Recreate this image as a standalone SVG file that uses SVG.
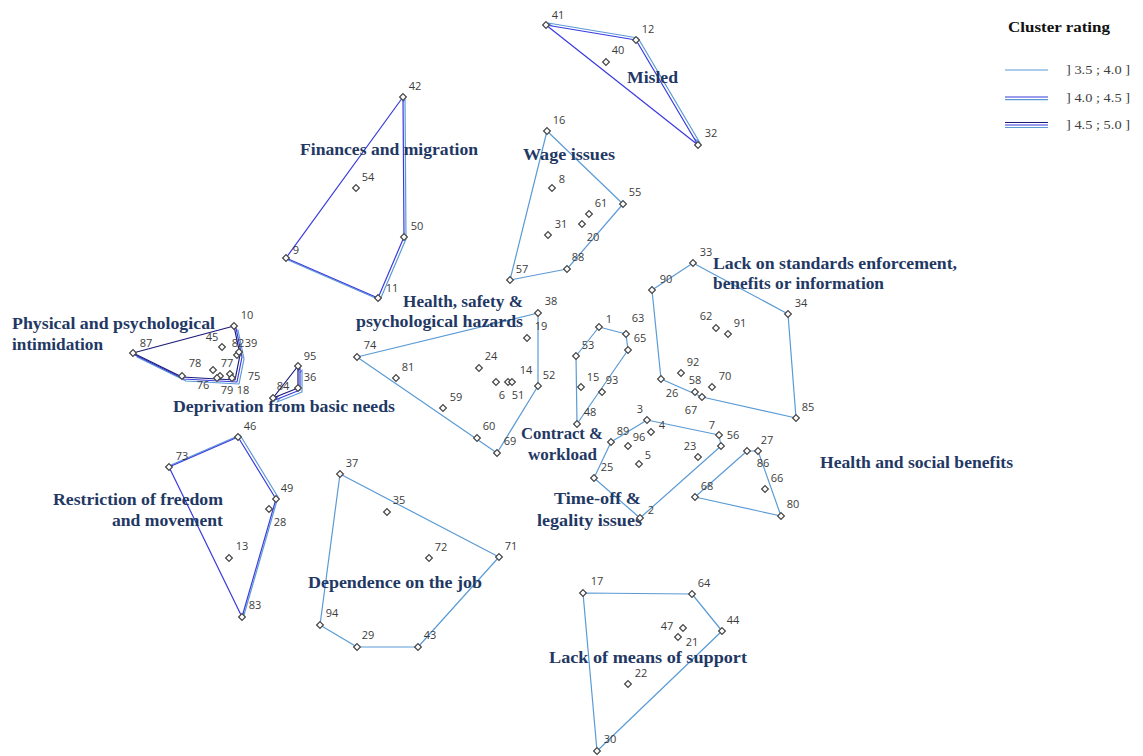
<svg xmlns="http://www.w3.org/2000/svg" xmlns:xlink="http://www.w3.org/1999/xlink" width="1143" height="756" viewBox="0 0 1143 756">
  <style>
    .l1 { fill: #ffffff; stroke: #5b9bd5; stroke-width: 1.2; stroke-linejoin: round; }
    .l2 { fill: #ffffff; stroke: #3a3ae0; stroke-width: 1.2; stroke-linejoin: round; }
    .l3 { fill: #ffffff; stroke: #1a1a78; stroke-width: 1.2; stroke-linejoin: round; }
    .pt { fill: #ffffff; stroke: #444444; stroke-width: 1.2; }
    .num { font-family: "Open Sans", "DejaVu Sans", sans-serif; font-size: 11px; fill: #3c3c3c; text-anchor: middle; }
    .cl { font-family: "Liberation Serif", serif; font-size: 17px; font-weight: bold; fill: #1f3864; }
    .lg { font-family: "Liberation Serif", serif; font-size: 13px; fill: #404040; }
    .lgt { font-family: "Liberation Serif", serif; font-size: 14px; font-weight: bold; fill: #111111; }
  </style>
  <defs>
    <path id="pt" class="pt" d="M0,-3.4 L3.4,0 L0,3.4 L-3.4,0 Z"/>
    <!-- cluster hulls -->
    <polygon id="h-fin" points="403,97 404,237 378,298 286,258"/>
    <polygon id="h-mis" points="546,25 636,40 698,145"/>
    <polygon id="h-wage" points="547,131 623,204 567,269 510,280"/>
    <polygon id="h-phys" points="133,353 234,326 240,355 235,380 182,377"/>
    <polygon id="h-dep" points="273,398 298,366 298,388"/>
    <polygon id="h-hsp" points="357,357 538,313 538,386 497,453"/>
    <polygon id="h-con" points="576,356 599,327 626,334 628,350 577,424"/>
    <polygon id="h-time" points="611,442 647,420 719,435 721,446 640,518 594,478"/>
    <polygon id="h-std" points="652,290 693,263 788,314 796,418 702,397 661,379"/>
    <polygon id="h-hsb" points="695,497 747,451 758,451 781,516"/>
    <polygon id="h-res" points="169,467 238,437 276,499 242,617"/>
    <polygon id="h-job" points="340,474 499,557 418,647 357,647 320,625"/>
    <polygon id="h-sup" points="583,593 692,594 722,631 597,751"/>
  </defs>

  <rect x="0" y="0" width="1143" height="756" fill="#ffffff"/>

  <!-- hull outlines; stacked layers show the cluster rating -->
  <g id="connectors">
    <use href="#h-fin" class="l1" transform="translate(2,2)"/>
    <use href="#h-fin" class="l2"/>
    <use href="#h-mis" class="l1" transform="translate(2,-2)"/>
    <use href="#h-mis" class="l2"/>
    <use href="#h-res" class="l1" transform="translate(2,-2)"/>
    <use href="#h-res" class="l2"/>
    <use href="#h-phys" class="l1" transform="translate(4,4)"/>
    <use href="#h-phys" class="l2" transform="translate(2,2)"/>
    <use href="#h-phys" class="l3"/>
    <use href="#h-dep" class="l1" transform="translate(4,4)"/>
    <use href="#h-dep" class="l2" transform="translate(2,2)"/>
    <use href="#h-dep" class="l3"/>
    <use href="#h-wage" class="l1"/>
    <use href="#h-hsp" class="l1"/>
    <use href="#h-con" class="l1"/>
    <use href="#h-time" class="l1"/>
    <use href="#h-std" class="l1"/>
    <use href="#h-hsb" class="l1"/>
    <use href="#h-job" class="l1"/>
    <use href="#h-sup" class="l1"/>
  </g>

  <!-- cluster names -->
  <g id="cluster-names">
    <text class="cl" x="300" y="155" textLength="178" lengthAdjust="spacingAndGlyphs">Finances and migration</text>
    <text class="cl" x="627" y="83" textLength="51" lengthAdjust="spacingAndGlyphs">Misled</text>
    <text class="cl" x="523" y="160" textLength="92" lengthAdjust="spacingAndGlyphs">Wage issues</text>
    <text class="cl" x="403" y="307" textLength="120" lengthAdjust="spacingAndGlyphs">Health, safety &amp;</text>
    <text class="cl" x="356" y="327" textLength="167" lengthAdjust="spacingAndGlyphs">psychological hazards</text>
    <text class="cl" x="12" y="329" textLength="203" lengthAdjust="spacingAndGlyphs">Physical and psychological</text>
    <text class="cl" x="12" y="350" textLength="91" lengthAdjust="spacingAndGlyphs">intimidation</text>
    <text class="cl" x="173" y="412" textLength="222" lengthAdjust="spacingAndGlyphs">Deprivation from basic needs</text>
    <text class="cl" x="521" y="439" textLength="82" lengthAdjust="spacingAndGlyphs">Contract &amp;</text>
    <text class="cl" x="528" y="460" textLength="69" lengthAdjust="spacingAndGlyphs">workload</text>
    <text class="cl" x="713" y="269" textLength="244" lengthAdjust="spacingAndGlyphs">Lack on standards enforcement,</text>
    <text class="cl" x="713" y="289" textLength="171" lengthAdjust="spacingAndGlyphs">benefits or information</text>
    <text class="cl" x="554" y="504" textLength="87" lengthAdjust="spacingAndGlyphs">Time-off  &amp;</text>
    <text class="cl" x="537" y="526" textLength="105" lengthAdjust="spacingAndGlyphs">legality issues</text>
    <text class="cl" x="820" y="468" textLength="193" lengthAdjust="spacingAndGlyphs">Health and social benefits</text>
    <text class="cl" x="53" y="505" textLength="170" lengthAdjust="spacingAndGlyphs">Restriction of  freedom</text>
    <text class="cl" x="112" y="526" textLength="111" lengthAdjust="spacingAndGlyphs">and movement</text>
    <text class="cl" x="308" y="588" textLength="174" lengthAdjust="spacingAndGlyphs">Dependence on the job</text>
    <text class="cl" x="549" y="663" textLength="198" lengthAdjust="spacingAndGlyphs">Lack of  means of  support</text>
  </g>

  <!-- statements -->
  <g id="statements">
    <g id="s42"><use href="#pt" x="403" y="97"/><text class="num" x="415" y="90">42</text></g>
    <g id="s54"><use href="#pt" x="356" y="188"/><text class="num" x="368" y="181">54</text></g>
    <g id="s50"><use href="#pt" x="404" y="237"/><text class="num" x="417" y="230">50</text></g>
    <g id="s9"><use href="#pt" x="286" y="258"/><text class="num" x="296" y="254">9</text></g>
    <g id="s11"><use href="#pt" x="378" y="298"/><text class="num" x="392" y="292">11</text></g>

    <g id="s41"><use href="#pt" x="546" y="25"/><text class="num" x="558" y="19">41</text></g>
    <g id="s12"><use href="#pt" x="636" y="40"/><text class="num" x="648" y="33">12</text></g>
    <g id="s40"><use href="#pt" x="606" y="62"/><text class="num" x="618" y="54">40</text></g>
    <g id="s32"><use href="#pt" x="698" y="145"/><text class="num" x="711" y="137">32</text></g>

    <g id="s16"><use href="#pt" x="547" y="131"/><text class="num" x="559" y="124">16</text></g>
    <g id="s8"><use href="#pt" x="552" y="188"/><text class="num" x="562" y="183">8</text></g>
    <g id="s55"><use href="#pt" x="623" y="204"/><text class="num" x="635" y="196">55</text></g>
    <g id="s61"><use href="#pt" x="589" y="214"/><text class="num" x="601" y="207">61</text></g>
    <g id="s31"><use href="#pt" x="548" y="235"/><text class="num" x="561" y="228">31</text></g>
    <g id="s20"><use href="#pt" x="582" y="224"/><text class="num" x="593" y="241">20</text></g>
    <g id="s88"><use href="#pt" x="567" y="269"/><text class="num" x="578" y="261">88</text></g>
    <g id="s57"><use href="#pt" x="510" y="280"/><text class="num" x="522" y="273">57</text></g>

    <g id="s10"><use href="#pt" x="234" y="326"/><text class="num" x="247" y="319">10</text></g>
    <g id="s87"><use href="#pt" x="133" y="353"/><text class="num" x="146" y="347">87</text></g>
    <g id="s45"><use href="#pt" x="222" y="347"/><text class="num" x="212" y="341">45</text></g>
    <g id="s82"><use href="#pt" x="237" y="355"/><text class="num" x="238" y="347">82</text></g>
    <g id="s39"><use href="#pt" x="239" y="352"/><text class="num" x="251" y="347">39</text></g>
    <g id="s78"><use href="#pt" x="182" y="376"/><text class="num" x="195" y="367">78</text></g>
    <g id="s76"><use href="#pt" x="213" y="370"/><text class="num" x="203" y="389">76</text></g>
    <g id="s77"><use href="#pt" x="230" y="374"/><text class="num" x="227" y="367">77</text></g>
    <g id="s79"><use href="#pt" x="220" y="376"/><text class="num" x="227" y="394">79</text></g>
    <g id="s18"><use href="#pt" x="232" y="378"/><text class="num" x="243" y="394">18</text></g>
    <g id="s75"><use href="#pt" x="217" y="378"/><text class="num" x="254" y="380">75</text></g>

    <g id="s95"><use href="#pt" x="298" y="366"/><text class="num" x="310" y="360">95</text></g>
    <g id="s36"><use href="#pt" x="298" y="388"/><text class="num" x="310" y="381">36</text></g>
    <g id="s84"><use href="#pt" x="273" y="398"/><text class="num" x="283" y="390">84</text></g>

    <g id="s38"><use href="#pt" x="538" y="313"/><text class="num" x="551" y="305">38</text></g>
    <g id="s19"><use href="#pt" x="527" y="338"/><text class="num" x="541" y="330">19</text></g>
    <g id="s74"><use href="#pt" x="357" y="357"/><text class="num" x="370" y="349">74</text></g>
    <g id="s24"><use href="#pt" x="479" y="368"/><text class="num" x="491" y="360">24</text></g>
    <g id="s81"><use href="#pt" x="396" y="378"/><text class="num" x="408" y="371">81</text></g>
    <g id="s6"><use href="#pt" x="496" y="382"/><text class="num" x="502" y="399">6</text></g>
    <g id="s14"><use href="#pt" x="508" y="382"/><text class="num" x="526" y="374">14</text></g>
    <g id="s51"><use href="#pt" x="512" y="382"/><text class="num" x="518" y="399">51</text></g>
    <g id="s52"><use href="#pt" x="538" y="386"/><text class="num" x="549" y="379">52</text></g>
    <g id="s59"><use href="#pt" x="443" y="408"/><text class="num" x="456" y="401">59</text></g>
    <g id="s60"><use href="#pt" x="477" y="438"/><text class="num" x="489" y="430">60</text></g>
    <g id="s69"><use href="#pt" x="497" y="453"/><text class="num" x="510" y="445">69</text></g>

    <g id="s1"><use href="#pt" x="599" y="327"/><text class="num" x="609" y="323">1</text></g>
    <g id="s63"><use href="#pt" x="626" y="334"/><text class="num" x="638" y="322">63</text></g>
    <g id="s65"><use href="#pt" x="628" y="350"/><text class="num" x="640" y="342">65</text></g>
    <g id="s53"><use href="#pt" x="576" y="356"/><text class="num" x="588" y="349">53</text></g>
    <g id="s15"><use href="#pt" x="581" y="387"/><text class="num" x="593" y="381">15</text></g>
    <g id="s93"><use href="#pt" x="602" y="392"/><text class="num" x="612" y="384">93</text></g>
    <g id="s48"><use href="#pt" x="577" y="424"/><text class="num" x="590" y="416">48</text></g>

    <g id="s3"><use href="#pt" x="647" y="420"/><text class="num" x="640" y="413">3</text></g>
    <g id="s4"><use href="#pt" x="651" y="432"/><text class="num" x="662" y="429">4</text></g>
    <g id="s89"><use href="#pt" x="611" y="442"/><text class="num" x="623" y="435">89</text></g>
    <g id="s96"><use href="#pt" x="628" y="446"/><text class="num" x="639" y="441">96</text></g>
    <g id="s5"><use href="#pt" x="639" y="464"/><text class="num" x="648" y="459">5</text></g>
    <g id="s23"><use href="#pt" x="698" y="457"/><text class="num" x="690" y="450">23</text></g>
    <g id="s7"><use href="#pt" x="719" y="435"/><text class="num" x="712" y="429">7</text></g>
    <g id="s56"><use href="#pt" x="721" y="446"/><text class="num" x="733" y="439">56</text></g>
    <g id="s25"><use href="#pt" x="594" y="478"/><text class="num" x="607" y="471">25</text></g>
    <g id="s2"><use href="#pt" x="640" y="518"/><text class="num" x="651" y="514">2</text></g>

    <g id="s33"><use href="#pt" x="693" y="263"/><text class="num" x="706" y="256">33</text></g>
    <g id="s90"><use href="#pt" x="652" y="290"/><text class="num" x="666" y="283">90</text></g>
    <g id="s34"><use href="#pt" x="788" y="314"/><text class="num" x="801" y="307">34</text></g>
    <g id="s62"><use href="#pt" x="716" y="328"/><text class="num" x="706" y="320">62</text></g>
    <g id="s91"><use href="#pt" x="728" y="334"/><text class="num" x="740" y="327">91</text></g>
    <g id="s92"><use href="#pt" x="681" y="373"/><text class="num" x="693" y="366">92</text></g>
    <g id="s26"><use href="#pt" x="661" y="379"/><text class="num" x="672" y="397">26</text></g>
    <g id="s58"><use href="#pt" x="695" y="392"/><text class="num" x="695" y="384">58</text></g>
    <g id="s67"><use href="#pt" x="702" y="397"/><text class="num" x="691" y="414">67</text></g>
    <g id="s70"><use href="#pt" x="712" y="387"/><text class="num" x="725" y="380">70</text></g>
    <g id="s85"><use href="#pt" x="796" y="418"/><text class="num" x="808" y="411">85</text></g>

    <g id="s27"><use href="#pt" x="758" y="451"/><text class="num" x="767" y="444">27</text></g>
    <g id="s86"><use href="#pt" x="747" y="451"/><text class="num" x="763" y="467">86</text></g>
    <g id="s66"><use href="#pt" x="765" y="489"/><text class="num" x="777" y="482">66</text></g>
    <g id="s68"><use href="#pt" x="695" y="497"/><text class="num" x="707" y="490">68</text></g>
    <g id="s80"><use href="#pt" x="781" y="516"/><text class="num" x="793" y="508">80</text></g>

    <g id="s46"><use href="#pt" x="238" y="437"/><text class="num" x="250" y="430">46</text></g>
    <g id="s73"><use href="#pt" x="169" y="467"/><text class="num" x="182" y="460">73</text></g>
    <g id="s49"><use href="#pt" x="276" y="499"/><text class="num" x="287" y="492">49</text></g>
    <g id="s28"><use href="#pt" x="269" y="509"/><text class="num" x="280" y="526">28</text></g>
    <g id="s13"><use href="#pt" x="229" y="558"/><text class="num" x="242" y="550">13</text></g>
    <g id="s83"><use href="#pt" x="242" y="617"/><text class="num" x="255" y="609">83</text></g>

    <g id="s37"><use href="#pt" x="340" y="474"/><text class="num" x="352" y="467">37</text></g>
    <g id="s35"><use href="#pt" x="387" y="512"/><text class="num" x="399" y="504">35</text></g>
    <g id="s72"><use href="#pt" x="429" y="558"/><text class="num" x="441" y="551">72</text></g>
    <g id="s71"><use href="#pt" x="499" y="557"/><text class="num" x="511" y="550">71</text></g>
    <g id="s94"><use href="#pt" x="320" y="625"/><text class="num" x="332" y="617">94</text></g>
    <g id="s29"><use href="#pt" x="357" y="647"/><text class="num" x="368" y="639">29</text></g>
    <g id="s43"><use href="#pt" x="418" y="647"/><text class="num" x="430" y="639">43</text></g>

    <g id="s17"><use href="#pt" x="583" y="593"/><text class="num" x="597" y="585">17</text></g>
    <g id="s64"><use href="#pt" x="692" y="594"/><text class="num" x="704" y="587">64</text></g>
    <g id="s44"><use href="#pt" x="722" y="631"/><text class="num" x="733" y="624">44</text></g>
    <g id="s47"><use href="#pt" x="683" y="628"/><text class="num" x="667" y="630">47</text></g>
    <g id="s21"><use href="#pt" x="678" y="637"/><text class="num" x="692" y="646">21</text></g>
    <g id="s22"><use href="#pt" x="628" y="684"/><text class="num" x="641" y="677">22</text></g>
    <g id="s30"><use href="#pt" x="597" y="751"/><text class="num" x="610" y="743">30</text></g>
  </g>

  <!-- rating legend -->
  <g id="legend">
    <text class="lgt" x="1008" y="32" textLength="102" lengthAdjust="spacingAndGlyphs">Cluster rating</text>
    <line x1="1005" y1="70" x2="1048" y2="70" stroke="#5b9bd5" stroke-width="1.2"/>
    <text class="lg" x="1066" y="74" textLength="64" lengthAdjust="spacingAndGlyphs">] 3.5 ; 4.0 ]</text>
    <line x1="1005" y1="97" x2="1048" y2="97" stroke="#3a3ae0" stroke-width="1.2"/>
    <line x1="1005" y1="99.6" x2="1048" y2="99.6" stroke="#5b9bd5" stroke-width="1.2"/>
    <text class="lg" x="1066" y="102" textLength="64" lengthAdjust="spacingAndGlyphs">] 4.0 ; 4.5 ]</text>
    <line x1="1005" y1="122.5" x2="1048" y2="122.5" stroke="#1a1a78" stroke-width="1.2"/>
    <line x1="1005" y1="125" x2="1048" y2="125" stroke="#3a3ae0" stroke-width="1.2"/>
    <line x1="1005" y1="127.5" x2="1048" y2="127.5" stroke="#5b9bd5" stroke-width="1.2"/>
    <text class="lg" x="1066" y="129" textLength="64" lengthAdjust="spacingAndGlyphs">] 4.5 ; 5.0 ]</text>
  </g>
</svg>
